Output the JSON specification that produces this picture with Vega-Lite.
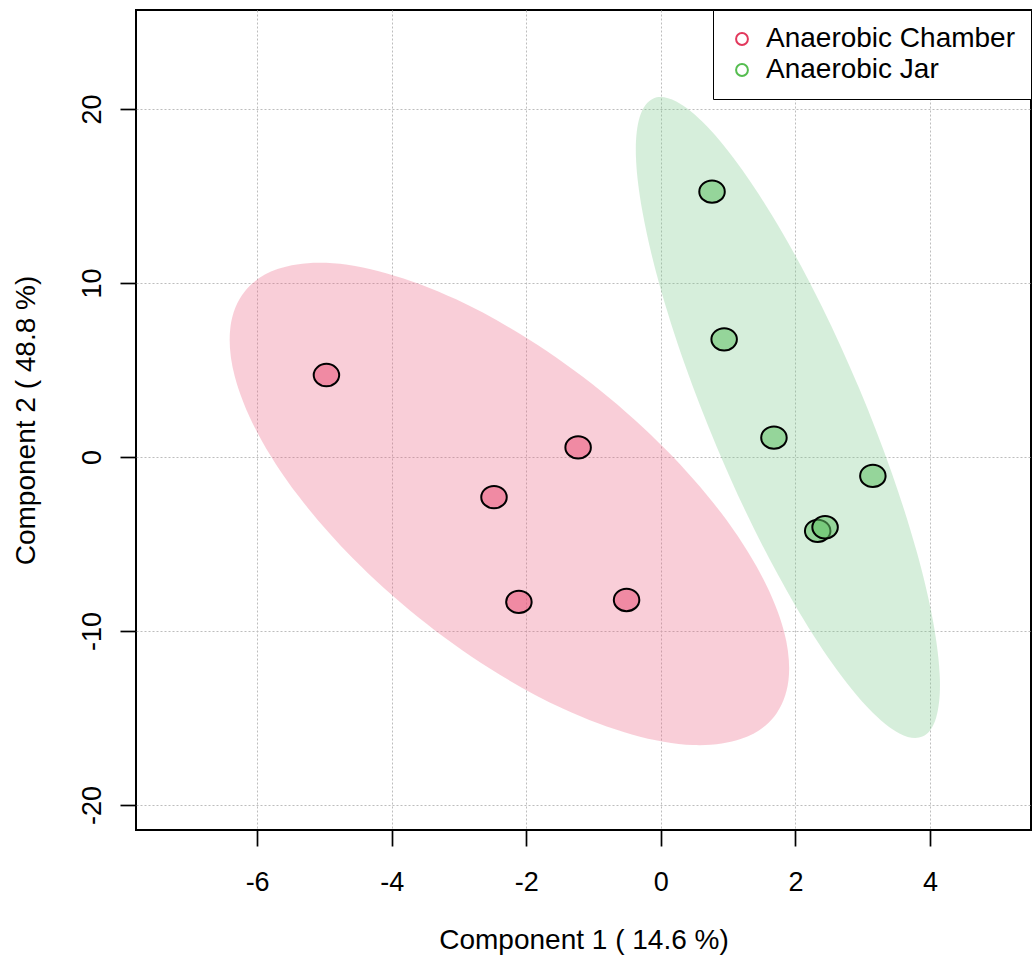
{
  "$schema": "https://vega.github.io/schema/vega-lite/v6.json",
  "autosize": {"type": "none"},
  "padding": {"left": 136, "top": 10, "right": 1, "bottom": 125},
  "width": 895,
  "height": 820,
  "background": "white",
  "datasets": {
    "ellipse": [
      {"group": "Anaerobic Chamber", "i": 0, "x": 1.679, "y": -14.94},
      {"group": "Anaerobic Chamber", "i": 1, "x": 1.195, "y": -16.20},
      {"group": "Anaerobic Chamber", "i": 2, "x": 0.475, "y": -16.56},
      {"group": "Anaerobic Chamber", "i": 3, "x": -0.431, "y": -15.95},
      {"group": "Anaerobic Chamber", "i": 4, "x": -1.459, "y": -14.46},
      {"group": "Anaerobic Chamber", "i": 5, "x": -2.542, "y": -12.16},
      {"group": "Anaerobic Chamber", "i": 6, "x": -3.606, "y": -9.21},
      {"group": "Anaerobic Chamber", "i": 7, "x": -4.578, "y": -5.82},
      {"group": "Anaerobic Chamber", "i": 8, "x": -5.391, "y": -2.22},
      {"group": "Anaerobic Chamber", "i": 9, "x": -5.988, "y": 1.34},
      {"group": "Anaerobic Chamber", "i": 10, "x": -6.333, "y": 4.64},
      {"group": "Anaerobic Chamber", "i": 11, "x": -6.398, "y": 7.43},
      {"group": "Anaerobic Chamber", "i": 12, "x": -6.181, "y": 9.53},
      {"group": "Anaerobic Chamber", "i": 13, "x": -5.697, "y": 10.80},
      {"group": "Anaerobic Chamber", "i": 14, "x": -4.978, "y": 11.16},
      {"group": "Anaerobic Chamber", "i": 15, "x": -4.071, "y": 10.55},
      {"group": "Anaerobic Chamber", "i": 16, "x": -3.043, "y": 9.06},
      {"group": "Anaerobic Chamber", "i": 17, "x": -1.960, "y": 6.75},
      {"group": "Anaerobic Chamber", "i": 18, "x": -0.896, "y": 3.81},
      {"group": "Anaerobic Chamber", "i": 19, "x": 0.076, "y": 0.42},
      {"group": "Anaerobic Chamber", "i": 20, "x": 0.889, "y": -3.18},
      {"group": "Anaerobic Chamber", "i": 21, "x": 1.486, "y": -6.75},
      {"group": "Anaerobic Chamber", "i": 22, "x": 1.831, "y": -10.04},
      {"group": "Anaerobic Chamber", "i": 23, "x": 1.896, "y": -12.83},
      {"group": "Anaerobic Jar", "i": 0, "x": 3.886, "y": -16.07},
      {"group": "Anaerobic Jar", "i": 1, "x": 3.545, "y": -15.89},
      {"group": "Anaerobic Jar", "i": 2, "x": 3.091, "y": -14.47},
      {"group": "Anaerobic Jar", "i": 3, "x": 2.556, "y": -11.91},
      {"group": "Anaerobic Jar", "i": 4, "x": 1.975, "y": -8.39},
      {"group": "Anaerobic Jar", "i": 5, "x": 1.386, "y": -4.14},
      {"group": "Anaerobic Jar", "i": 6, "x": 0.834, "y": 0.55},
      {"group": "Anaerobic Jar", "i": 7, "x": 0.352, "y": 5.36},
      {"group": "Anaerobic Jar", "i": 8, "x": -0.025, "y": 9.95},
      {"group": "Anaerobic Jar", "i": 9, "x": -0.270, "y": 14.02},
      {"group": "Anaerobic Jar", "i": 10, "x": -0.371, "y": 17.29},
      {"group": "Anaerobic Jar", "i": 11, "x": -0.315, "y": 19.54},
      {"group": "Anaerobic Jar", "i": 12, "x": -0.111, "y": 20.61},
      {"group": "Anaerobic Jar", "i": 13, "x": 0.229, "y": 20.43},
      {"group": "Anaerobic Jar", "i": 14, "x": 0.684, "y": 19.01},
      {"group": "Anaerobic Jar", "i": 15, "x": 1.218, "y": 16.45},
      {"group": "Anaerobic Jar", "i": 16, "x": 1.799, "y": 12.93},
      {"group": "Anaerobic Jar", "i": 17, "x": 2.388, "y": 8.68},
      {"group": "Anaerobic Jar", "i": 18, "x": 2.941, "y": 3.99},
      {"group": "Anaerobic Jar", "i": 19, "x": 3.422, "y": -0.82},
      {"group": "Anaerobic Jar", "i": 20, "x": 3.799, "y": -5.41},
      {"group": "Anaerobic Jar", "i": 21, "x": 4.045, "y": -9.45},
      {"group": "Anaerobic Jar", "i": 22, "x": 4.146, "y": -12.75},
      {"group": "Anaerobic Jar", "i": 23, "x": 4.089, "y": -15.00}
    ],
    "points": [
      {"group": "Anaerobic Chamber", "x": -4.97, "y": 4.71},
      {"group": "Anaerobic Chamber", "x": -1.23, "y": 0.55},
      {"group": "Anaerobic Chamber", "x": -2.48, "y": -2.31},
      {"group": "Anaerobic Chamber", "x": -2.11, "y": -8.33},
      {"group": "Anaerobic Chamber", "x": -0.51, "y": -8.22},
      {"group": "Anaerobic Jar", "x": 0.76, "y": 15.25},
      {"group": "Anaerobic Jar", "x": 0.94, "y": 6.76},
      {"group": "Anaerobic Jar", "x": 1.68, "y": 1.11},
      {"group": "Anaerobic Jar", "x": 3.15, "y": -1.09},
      {"group": "Anaerobic Jar", "x": 2.33, "y": -4.25},
      {"group": "Anaerobic Jar", "x": 2.44, "y": -4.04}
    ]
  },
  "encoding": {
    "x": {
      "field": "x", "type": "quantitative",
      "scale": {"domain": [-7.80, 5.50], "nice": false, "zero": false},
      "axis": {
        "values": [-6, -4, -2, 0, 2, 4],
        "title": "Component 1 ( 14.6 %)",
        "labelExpr": "'' + datum.value",
        "labelPadding": 23,
        "titlePadding": 31,
        "labelFlush": false
      }
    },
    "y": {
      "field": "y", "type": "quantitative",
      "scale": {"domain": [-21.44, 25.69], "nice": false, "zero": false},
      "axis": {
        "values": [-20, -10, 0, 10, 20],
        "title": "Component 2 ( 48.8 %)",
        "labelExpr": "'' + datum.value",
        "labelAngle": 270,
        "labelAlign": "center",
        "labelBaseline": "bottom",
        "labelPadding": 14,
        "titlePadding": 38
      }
    }
  },
  "layer": [
    {
      "data": {"name": "ellipse"},
      "mark": {"type": "line", "interpolate": "cardinal-closed", "fillOpacity": 0.3, "strokeOpacity": 0, "strokeWidth": 0},
      "encoding": {
        "fill": {"field": "group", "type": "nominal", "scale": {"range": ["#eb5c7d", "#76c687"]}, "legend": null},
        "detail": {"field": "group"},
        "order": {"field": "i", "type": "quantitative"}
      }
    },
    {
      "data": {"name": "points"},
      "mark": {"type": "point", "filled": false, "opacity": 0, "shape": "circle", "strokeWidth": 2},
      "encoding": {
        "stroke": {
          "field": "group", "type": "nominal",
          "scale": {"domain": ["Anaerobic Chamber", "Anaerobic Jar"], "range": ["#e2385c", "#55bd50"]},
          "legend": {
            "title": null,
            "orient": "top-right",
            "offset": 0,
            "symbolOpacity": 1,
            "symbolType": "circle",
            "symbolSize": 140,
            "symbolStrokeWidth": 2,
            "symbolFillColor": "transparent",
            "labelFontSize": 28,
            "labelFont": "Liberation Sans",
            "labelColor": "black",
            "labelLimit": 500,
            "labelOffset": 10,
            "padding": 15,
            "rowPadding": 3,
            "fillColor": "white",
            "strokeColor": "black",
            "cornerRadius": 0,
            "encode": {"legend": {"update": {"strokeWidth": {"value": 2}}}}
          }
        }
      }
    },
    {
      "data": {"name": "points"},
      "mark": {"type": "point", "filled": true, "opacity": 1, "fillOpacity": 0.55, "stroke": "black", "strokeWidth": 2, "size": 650,
               "shape": "M -1 0 A 1 0.875 0 1 0 1 0 A 1 0.875 0 1 0 -1 0 Z"},
      "encoding": {
        "fill": {"field": "group", "type": "nominal", "scale": {"range": ["#e95278", "#60c165"]}, "legend": null}
      }
    }
  ],
  "resolve": {"scale": {"fill": "independent"}},
  "config": {
    "view": {"stroke": "black", "strokeWidth": 2},
    "axis": {
      "grid": true,
      "gridColor": "#bdbdbd",
      "gridDash": [2, 2],
      "gridWidth": 1,
      "domain": false,
      "ticks": true,
      "tickColor": "black",
      "tickSize": 16,
      "tickWidth": 1.7,
      "labelFont": "Liberation Sans",
      "labelFontSize": 27,
      "labelColor": "black",
      "titleFont": "Liberation Sans",
      "titleFontSize": 28,
      "titleFontWeight": "normal",
      "titleColor": "black"
    }
  }
}
